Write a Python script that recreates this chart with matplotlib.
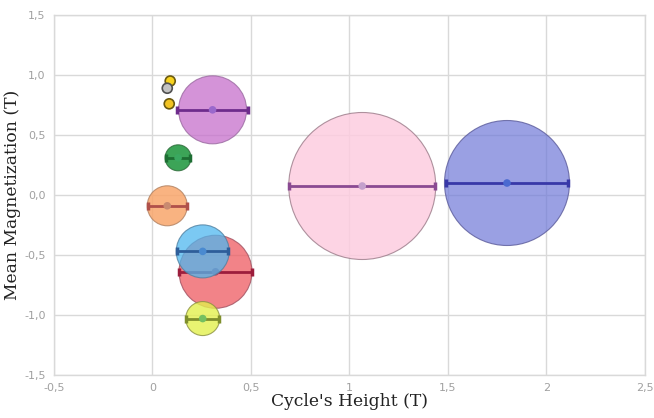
import matplotlib
matplotlib.use('Agg')
import matplotlib.pyplot as plt

# bubble data
cycle_height = [0.09, 0.075, 0.085, 0.305, 0.13, 0.075, 0.32, 0.255, 0.255, 1.065, 1.80]
mean_mag = [0.95, 0.89, 0.76, 0.71, 0.31, -0.09, -0.64, -0.47, -1.03, 0.075, 0.10]
height_err = [0.0, 0.0, 0.0, 0.18, 0.06, 0.10, 0.185, 0.13, 0.085, 0.37, 0.31]
bubble_px = [10, 10, 10, 68, 26, 40, 73, 53, 34, 147, 125]
fill_colors = ['#f7d21e', '#c3c3c3', '#f2c323', '#c66fcc', '#279a45', '#f9a66b',
               '#ee5a60', '#4fb7ef', '#e3f04e', '#fdcde0', '#6f78d8']
edge_colors = ['#6b5a10', '#505050', '#6b5a10', '#9a6aa0', '#2c6a38', '#b08060',
               '#a05060', '#5080a0', '#8a9040', '#9a7a88', '#5a5a9a']
bar_colors = ['#000000', '#000000', '#000000', '#6e2c8c', '#1d6e33', '#b0504a',
              '#9c1d3c', '#2e5e9a', '#7f8f2c', '#8a4a92', '#3838a8']
dot_colors = ['#f7d21e', '#c3c3c3', '#f2c323', '#9a68cc', '#3aa860', '#c88a70',
              '#b04060', '#4a8ad0', '#74c060', '#c4a0cc', '#4a6ad0']
fill_alpha = [1, 1, 1, 0.75, 0.9, 0.85, 0.75, 0.75, 0.8, 0.85, 0.7]

x_ticks = [-0.5, 0, 0.5, 1, 1.5, 2, 2.5]
x_tick_labels = ['-0,5', '0', '0,5', '1', '1,5', '2', '2,5']
y_ticks = [-1.5, -1.0, -0.5, 0.0, 0.5, 1.0, 1.5]
y_tick_labels = ['-1,5', '-1,0', '-0,5', '0,0', '0,5', '1,0', '1,5']

fig = plt.figure(figsize=(6.54, 4.18), dpi=100)
ax = fig.add_axes([0.0826, 0.103, 0.9034, 0.861])

for i in range(len(cycle_height)):
    d = bubble_px[i] * 0.72
    small = height_err[i] == 0
    ax.scatter(cycle_height[i], mean_mag[i], s=d ** 2, color=fill_colors[i],
               alpha=fill_alpha[i], edgecolors='none', zorder=3 + i * 0.1)
    ax.scatter(cycle_height[i], mean_mag[i], s=d ** 2, facecolors='none',
               edgecolors=edge_colors[i], linewidths=1.2 if small else 0.8,
               alpha=1 if small else 0.8, zorder=3 + i * 0.1)
    if not small:
        ax.errorbar(cycle_height[i], mean_mag[i], xerr=height_err[i], fmt='none',
                    ecolor=bar_colors[i], elinewidth=2, capsize=3, capthick=2.5,
                    zorder=3.05 + i * 0.1)
        ax.scatter(cycle_height[i], mean_mag[i], s=30, color=dot_colors[i],
                   zorder=3.06 + i * 0.1, edgecolors='none')

ax.set_xlim(-0.5, 2.5)
ax.set_ylim(-1.5, 1.5)
ax.set_xticks(x_ticks)
ax.set_xticklabels(x_tick_labels)
ax.set_yticks(y_ticks)
ax.set_yticklabels(y_tick_labels)
ax.tick_params(length=0, labelsize=8, colors='#a0a0a0', pad=6)
ax.grid(True, color='#d9d9d9', linewidth=1)
ax.set_axisbelow(True)
for s in ax.spines.values():
    s.set_color('#d9d9d9')
    s.set_linewidth(1)

ax.set_xlabel("Cycle's Height (T)", family='DejaVu Serif', fontsize=12.3, color='#222222', labelpad=0)
ax.set_ylabel("Mean Magnetization (T)", family='DejaVu Serif', fontsize=12.3, color='#222222', labelpad=2)

fig.savefig('out.png', dpi=100)
